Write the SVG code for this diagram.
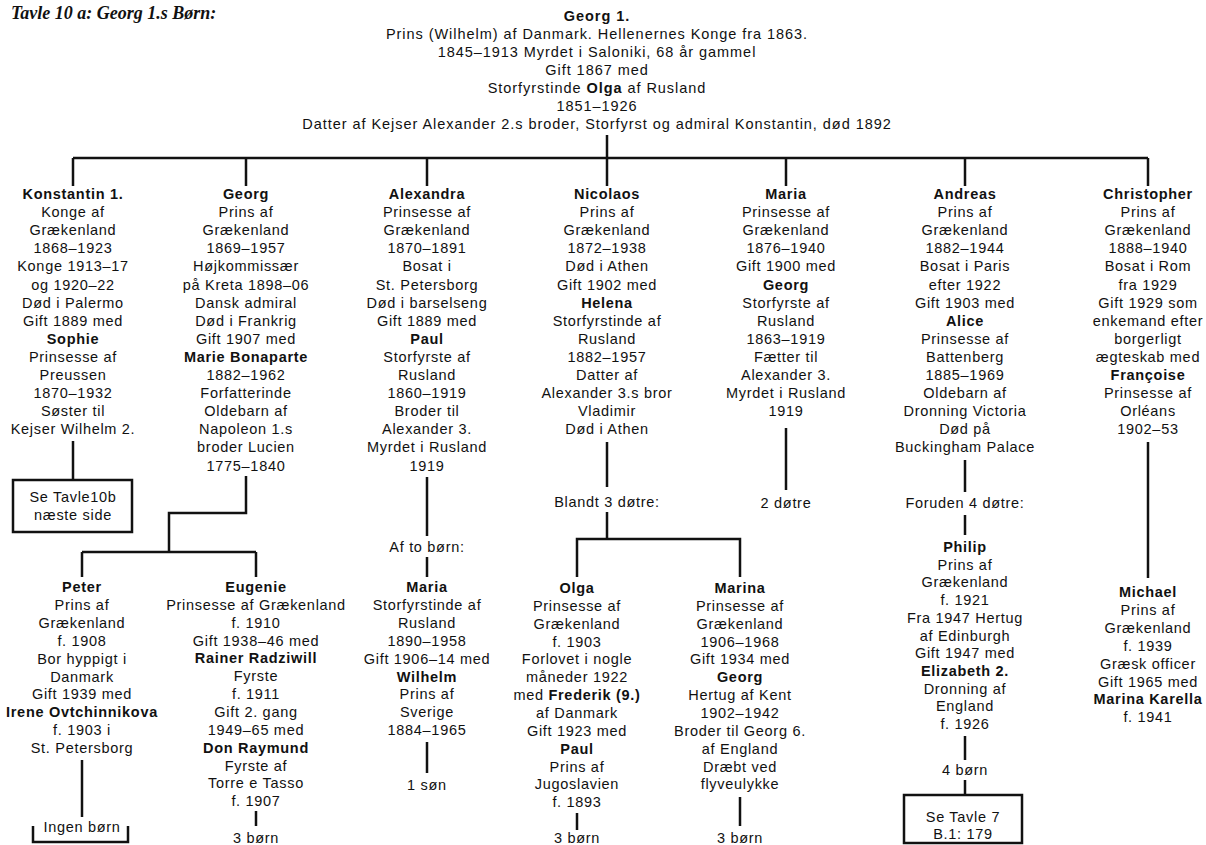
<svg xmlns="http://www.w3.org/2000/svg" width="1206" height="845" viewBox="0 0 1206 845">
<style>
.t{font-family:"Liberation Sans",Arial,sans-serif;font-size:14.5px;letter-spacing:0.7px;text-anchor:middle;fill:#111}
.h{letter-spacing:0.95px}
.b{font-weight:bold}
.ttl{font-family:"Liberation Serif","Times New Roman",serif;font-size:18px;font-style:italic;font-weight:bold;fill:#111}
.c{stroke:#111;stroke-width:2.5;fill:none}
.box{stroke:#111;stroke-width:2.5;fill:#fff}
</style>
<rect width="1206" height="845" fill="#fff"/>
<text class="ttl" x="11" y="19">Tavle 10 a: Georg 1.s Børn:</text>

<g id="connectors">
<path class="c" d="M607 135V186M73 158H1148M73 158V186M246 158V186M427 158V186M786 158V186M965 158V186M1148 158V186"/>
<path class="c" d="M73 441V480"/>
<path class="c" d="M246 476V513H169V552M82 552H256M82 552V577M256 552V577"/>
<path class="c" d="M82 760V817"/>
<path class="c" d="M33 826V842H128V826" stroke-width="2"/>
<path class="c" d="M256 811V826"/>
<path class="c" d="M427 477V536M427 557V577M427 742V773"/>
<path class="c" d="M607 442V487M607 512V539H577V577M607 539H740V577"/>
<path class="c" d="M577 813V830M740 797V826"/>
<path class="c" d="M786 428V490"/>
<path class="c" d="M965 460V492M965 515V535M965 736V760M965 780V795"/>
<path class="c" d="M1148 442V578"/>
</g>

<g id="georg1">
<text class="t h" x="597" y="21"><tspan x="597" class="b">Georg 1.</tspan><tspan x="597" dy="18">Prins (Wilhelm) af Danmark. Hellenernes Konge fra 1863.</tspan><tspan x="597" dy="18">1845–1913 Myrdet i Saloniki, 68 år gammel</tspan><tspan x="597" dy="18">Gift 1867 med</tspan><tspan x="597" dy="18">Storfyrstinde <tspan class="b">Olga</tspan> af Rusland</tspan><tspan x="597" dy="18">1851–1926</tspan><tspan x="597" dy="18">Datter af Kejser Alexander 2.s broder, Storfyrst og admiral Konstantin, død 1892</tspan></text>
</g>

<g id="konstantin">
<text class="t" x="73" y="199"><tspan x="73" class="b">Konstantin 1.</tspan><tspan x="73" dy="18.1">Konge af</tspan><tspan x="73" dy="18.1">Grækenland</tspan><tspan x="73" dy="18.1">1868–1923</tspan><tspan x="73" dy="18.1">Konge 1913–17</tspan><tspan x="73" dy="18.1">og 1920–22</tspan><tspan x="73" dy="18.1">Død i Palermo</tspan><tspan x="73" dy="18.1">Gift 1889 med</tspan><tspan x="73" dy="18.1" class="b">Sophie</tspan><tspan x="73" dy="18.1">Prinsesse af</tspan><tspan x="73" dy="18.1">Preussen</tspan><tspan x="73" dy="18.1">1870–1932</tspan><tspan x="73" dy="18.1">Søster til</tspan><tspan x="73" dy="18.1">Kejser Wilhelm 2.</tspan></text>
</g>
<g id="tavle10b">
<rect class="box" x="13" y="480" width="119" height="52"/>
<text class="t" x="73" y="502"><tspan x="73">Se Tavle10b</tspan><tspan x="73" dy="18">næste side</tspan></text>
</g>

<g id="georg">
<text class="t" x="246" y="199"><tspan x="246" class="b">Georg</tspan><tspan x="246" dy="18.1">Prins af</tspan><tspan x="246" dy="18.1">Grækenland</tspan><tspan x="246" dy="18.1">1869–1957</tspan><tspan x="246" dy="18.1">Højkommissær</tspan><tspan x="246" dy="18.1">på Kreta 1898–06</tspan><tspan x="246" dy="18.1">Dansk admiral</tspan><tspan x="246" dy="18.1">Død i Frankrig</tspan><tspan x="246" dy="18.1">Gift 1907 med</tspan><tspan x="246" dy="18.1" class="b">Marie Bonaparte</tspan><tspan x="246" dy="18.1">1882–1962</tspan><tspan x="246" dy="18.1">Forfatterinde</tspan><tspan x="246" dy="18.1">Oldebarn af</tspan><tspan x="246" dy="18.1">Napoleon 1.s</tspan><tspan x="246" dy="18.1">broder Lucien</tspan><tspan x="246" dy="18.1">1775–1840</tspan></text>
</g>

<g id="peter">
<text class="t" x="82" y="592"><tspan x="82" class="b">Peter</tspan><tspan x="82" dy="17.9">Prins af</tspan><tspan x="82" dy="17.9">Grækenland</tspan><tspan x="82" dy="17.9">f. 1908</tspan><tspan x="82" dy="17.9">Bor hyppigt i</tspan><tspan x="82" dy="17.9">Danmark</tspan><tspan x="82" dy="17.9">Gift 1939 med</tspan><tspan x="82" dy="17.9" class="b">Irene Ovtchinnikova</tspan><tspan x="82" dy="17.9">f. 1903 i</tspan><tspan x="82" dy="17.9">St. Petersborg</tspan></text>
<text class="t" x="82" y="832">Ingen børn</text>
</g>

<g id="eugenie">
<text class="t" x="256" y="592"><tspan x="256" class="b">Eugenie</tspan><tspan x="256" dy="17.85">Prinsesse af Grækenland</tspan><tspan x="256" dy="17.85">f. 1910</tspan><tspan x="256" dy="17.85">Gift 1938–46 med</tspan><tspan x="256" dy="17.85" class="b">Rainer Radziwill</tspan><tspan x="256" dy="17.85">Fyrste</tspan><tspan x="256" dy="17.85">f. 1911</tspan><tspan x="256" dy="17.85">Gift 2. gang</tspan><tspan x="256" dy="17.85">1949–65 med</tspan><tspan x="256" dy="17.85" class="b">Don Raymund</tspan><tspan x="256" dy="17.85">Fyrste af</tspan><tspan x="256" dy="17.85">Torre e Tasso</tspan><tspan x="256" dy="17.85">f. 1907</tspan></text>
<text class="t" x="256" y="843">3 børn</text>
</g>

<g id="alexandra">
<text class="t" x="427" y="199"><tspan x="427" class="b">Alexandra</tspan><tspan x="427" dy="18.1">Prinsesse af</tspan><tspan x="427" dy="18.1">Grækenland</tspan><tspan x="427" dy="18.1">1870–1891</tspan><tspan x="427" dy="18.1">Bosat i</tspan><tspan x="427" dy="18.1">St. Petersborg</tspan><tspan x="427" dy="18.1">Død i barselseng</tspan><tspan x="427" dy="18.1">Gift 1889 med</tspan><tspan x="427" dy="18.1" class="b">Paul</tspan><tspan x="427" dy="18.1">Storfyrste af</tspan><tspan x="427" dy="18.1">Rusland</tspan><tspan x="427" dy="18.1">1860–1919</tspan><tspan x="427" dy="18.1">Broder til</tspan><tspan x="427" dy="18.1">Alexander 3.</tspan><tspan x="427" dy="18.1">Myrdet i Rusland</tspan><tspan x="427" dy="18.1">1919</tspan></text>
<text class="t" x="427" y="552">Af to børn:</text>
</g>

<g id="maria-alexandra">
<text class="t" x="427" y="592"><tspan x="427" class="b">Maria</tspan><tspan x="427" dy="17.9">Storfyrstinde af</tspan><tspan x="427" dy="17.9">Rusland</tspan><tspan x="427" dy="17.9">1890–1958</tspan><tspan x="427" dy="17.9">Gift 1906–14 med</tspan><tspan x="427" dy="17.9" class="b">Wilhelm</tspan><tspan x="427" dy="17.9">Prins af</tspan><tspan x="427" dy="17.9">Sverige</tspan><tspan x="427" dy="17.9">1884–1965</tspan></text>
<text class="t" x="427" y="790">1 søn</text>
</g>

<g id="nicolaos">
<text class="t" x="607" y="199"><tspan x="607" class="b">Nicolaos</tspan><tspan x="607" dy="18.1">Prins af</tspan><tspan x="607" dy="18.1">Grækenland</tspan><tspan x="607" dy="18.1">1872–1938</tspan><tspan x="607" dy="18.1">Død i Athen</tspan><tspan x="607" dy="18.1">Gift 1902 med</tspan><tspan x="607" dy="18.1" class="b">Helena</tspan><tspan x="607" dy="18.1">Storfyrstinde af</tspan><tspan x="607" dy="18.1">Rusland</tspan><tspan x="607" dy="18.1">1882–1957</tspan><tspan x="607" dy="18.1">Datter af</tspan><tspan x="607" dy="18.1">Alexander 3.s bror</tspan><tspan x="607" dy="18.1">Vladimir</tspan><tspan x="607" dy="18.1">Død i Athen</tspan></text>
<text class="t" x="607" y="507">Blandt 3 døtre:</text>
</g>

<g id="olga">
<text class="t" x="577" y="593"><tspan x="577" class="b">Olga</tspan><tspan x="577" dy="17.85">Prinsesse af</tspan><tspan x="577" dy="17.85">Grækenland</tspan><tspan x="577" dy="17.85">f. 1903</tspan><tspan x="577" dy="17.85">Forlovet i nogle</tspan><tspan x="577" dy="17.85">måneder 1922</tspan><tspan x="577" dy="17.85">med <tspan class="b">Frederik (9.)</tspan></tspan><tspan x="577" dy="17.85">af Danmark</tspan><tspan x="577" dy="17.85">Gift 1923 med</tspan><tspan x="577" dy="17.85" class="b">Paul</tspan><tspan x="577" dy="17.85">Prins af</tspan><tspan x="577" dy="17.85">Jugoslavien</tspan><tspan x="577" dy="17.85">f. 1893</tspan></text>
<text class="t" x="577" y="843">3 børn</text>
</g>

<g id="marina">
<text class="t" x="740" y="593"><tspan x="740" class="b">Marina</tspan><tspan x="740" dy="17.85">Prinsesse af</tspan><tspan x="740" dy="17.85">Grækenland</tspan><tspan x="740" dy="17.85">1906–1968</tspan><tspan x="740" dy="17.85">Gift 1934 med</tspan><tspan x="740" dy="17.85" class="b">Georg</tspan><tspan x="740" dy="17.85">Hertug af Kent</tspan><tspan x="740" dy="17.85">1902–1942</tspan><tspan x="740" dy="17.85">Broder til Georg 6.</tspan><tspan x="740" dy="17.85">af England</tspan><tspan x="740" dy="17.85">Dræbt ved</tspan><tspan x="740" dy="17.85">flyveulykke</tspan></text>
<text class="t" x="740" y="843">3 børn</text>
</g>

<g id="maria">
<text class="t" x="786" y="199"><tspan x="786" class="b">Maria</tspan><tspan x="786" dy="18.1">Prinsesse af</tspan><tspan x="786" dy="18.1">Grækenland</tspan><tspan x="786" dy="18.1">1876–1940</tspan><tspan x="786" dy="18.1">Gift 1900 med</tspan><tspan x="786" dy="18.1" class="b">Georg</tspan><tspan x="786" dy="18.1">Storfyrste af</tspan><tspan x="786" dy="18.1">Rusland</tspan><tspan x="786" dy="18.1">1863–1919</tspan><tspan x="786" dy="18.1">Fætter til</tspan><tspan x="786" dy="18.1">Alexander 3.</tspan><tspan x="786" dy="18.1">Myrdet i Rusland</tspan><tspan x="786" dy="18.1">1919</tspan></text>
<text class="t" x="786" y="508">2 døtre</text>
</g>

<g id="andreas">
<text class="t" x="965" y="199"><tspan x="965" class="b">Andreas</tspan><tspan x="965" dy="18.1">Prins af</tspan><tspan x="965" dy="18.1">Grækenland</tspan><tspan x="965" dy="18.1">1882–1944</tspan><tspan x="965" dy="18.1">Bosat i Paris</tspan><tspan x="965" dy="18.1">efter 1922</tspan><tspan x="965" dy="18.1">Gift 1903 med</tspan><tspan x="965" dy="18.1" class="b">Alice</tspan><tspan x="965" dy="18.1">Prinsesse af</tspan><tspan x="965" dy="18.1">Battenberg</tspan><tspan x="965" dy="18.1">1885–1969</tspan><tspan x="965" dy="18.1">Oldebarn af</tspan><tspan x="965" dy="18.1">Dronning Victoria</tspan><tspan x="965" dy="18.1">Død på</tspan><tspan x="965" dy="18.1">Buckingham Palace</tspan></text>
<text class="t" x="965" y="508">Foruden 4 døtre:</text>
</g>

<g id="philip">
<text class="t" x="965" y="552"><tspan x="965" class="b">Philip</tspan><tspan x="965" dy="17.7">Prins af</tspan><tspan x="965" dy="17.7">Grækenland</tspan><tspan x="965" dy="17.7">f. 1921</tspan><tspan x="965" dy="17.7">Fra 1947 Hertug</tspan><tspan x="965" dy="17.7">af Edinburgh</tspan><tspan x="965" dy="17.7">Gift 1947 med</tspan><tspan x="965" dy="17.7" class="b">Elizabeth 2.</tspan><tspan x="965" dy="17.7">Dronning af</tspan><tspan x="965" dy="17.7">England</tspan><tspan x="965" dy="17.7">f. 1926</tspan></text>
<text class="t" x="965" y="775">4 børn</text>
</g>
<g id="tavle7">
<rect class="box" x="904" y="795" width="118" height="48"/>
<text class="t" x="963" y="822"><tspan x="963">Se Tavle 7</tspan><tspan x="963" dy="17">B.1: 179</tspan></text>
</g>

<g id="christopher">
<text class="t" x="1148" y="199"><tspan x="1148" class="b">Christopher</tspan><tspan x="1148" dy="18.1">Prins af</tspan><tspan x="1148" dy="18.1">Grækenland</tspan><tspan x="1148" dy="18.1">1888–1940</tspan><tspan x="1148" dy="18.1">Bosat i Rom</tspan><tspan x="1148" dy="18.1">fra 1929</tspan><tspan x="1148" dy="18.1">Gift 1929 som</tspan><tspan x="1148" dy="18.1">enkemand efter</tspan><tspan x="1148" dy="18.1">borgerligt</tspan><tspan x="1148" dy="18.1">ægteskab med</tspan><tspan x="1148" dy="18.1" class="b">Françoise</tspan><tspan x="1148" dy="18.1">Prinsesse af</tspan><tspan x="1148" dy="18.1">Orléans</tspan><tspan x="1148" dy="18.1">1902–53</tspan></text>
</g>

<g id="michael">
<text class="t" x="1148" y="597"><tspan x="1148" class="b">Michael</tspan><tspan x="1148" dy="17.9">Prins af</tspan><tspan x="1148" dy="17.9">Grækenland</tspan><tspan x="1148" dy="17.9">f. 1939</tspan><tspan x="1148" dy="17.9">Græsk officer</tspan><tspan x="1148" dy="17.9">Gift 1965 med</tspan><tspan x="1148" dy="17.9" class="b">Marina Karella</tspan><tspan x="1148" dy="17.9">f. 1941</tspan></text>
</g>
</svg>
